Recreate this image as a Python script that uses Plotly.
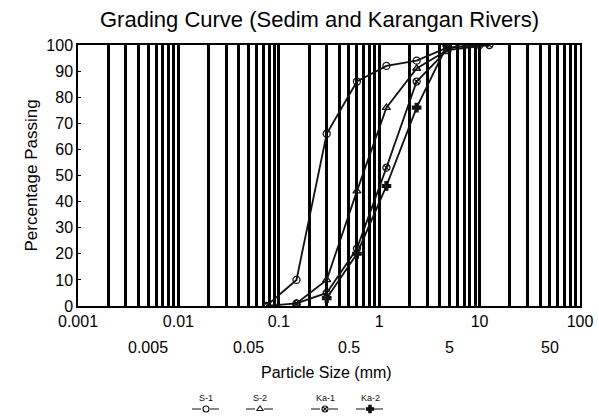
import numpy as np
import plotly.graph_objects as go

W, H = 599, 418
FONT = "Arial, Liberation Sans, sans-serif"

# Sieve analysis results (particle size in mm, percentage passing)
s1_size = [0.075, 0.15, 0.3, 0.6, 1.18, 2.36, 4.75, 10.0]
s1_pass = [0, 10, 66, 86, 92, 94, 99, 100]

s2_size = [0.075, 0.15, 0.3, 0.6, 1.18, 2.36, 4.75, 6.3]
s2_pass = [0, 1, 10, 44, 76, 91, 98, 100]

ka1_size = [0.15, 0.3, 0.6, 1.18, 2.36, 4.75, 12.5]
ka1_pass = [1, 5, 22, 53, 86, 98, 100]

ka2_size = [0.3, 0.6, 1.18, 2.36, 4.75]
ka2_pass = [3, 20, 46, 76, 100]

series_names = ["S-1", "S-2", "Ka-1", "Ka-2"]
series_symbols = ["circle-open", "triangle-up-open", "circle-x-open", "cross"]

# Axis labelling
major_ticks = [0.001, 0.01, 0.1, 1, 10, 100]
major_labels = ["0.001", "0.01", "0.1", "1", "10", "100"]
second_row_ticks = [0.005, 0.05, 0.5, 5, 50]
second_row_labels = ["0.005", "0.05", "0.5", "5", "50"]
y_ticks = list(range(0, 101, 10))

# Plot area in pixels
PX_L, PX_R, PX_T, PX_B = 78, 580, 45, 306
# Legend strip in pixels (top, bottom)
LG_T, LG_B = 388, 418

# Vertical log grid: 1..9 times every decade
grid_vals = [round(m * 10.0 ** e, 6) for e in range(-3, 2) for m in range(1, 10)] + [100]
grid_text = [major_labels[major_ticks.index(v)] if v in major_ticks else "" for v in grid_vals]

fig = go.Figure()

data = [(s1_size, s1_pass), (s2_size, s2_pass), (ka1_size, ka1_pass), (ka2_size, ka2_pass)]
for (xs, ys), name, sym in zip(data, series_names, series_symbols):
    fig.add_trace(go.Scatter(
        x=xs, y=ys, mode="lines+markers", name=name,
        line=dict(color="#111111", width=1.8),
        marker=dict(symbol=sym, size=7, color="#111111",
                    line=dict(color="#111111", width=1.3)),
        showlegend=False, xaxis="x", yaxis="y",
    ))

# Legend keys below the axis title (text above a short line with marker)
legend_centers = [206, 260, 325, 370]
for cx, name, sym in zip(legend_centers, series_names, series_symbols):
    fig.add_trace(go.Scatter(
        x=[cx - 14, cx, cx + 14], y=[409, 409, 409], mode="lines",
        line=dict(color="#111111", width=1.2, dash="dash"),
        showlegend=False, hoverinfo="skip", xaxis="x2", yaxis="y2",
    ))
    fig.add_trace(go.Scatter(
        x=[cx], y=[409], mode="markers",
        marker=dict(symbol=sym, size=6, color="#111111",
                    line=dict(color="#111111", width=1.1)),
        showlegend=False, hoverinfo="skip", xaxis="x2", yaxis="y2",
    ))
    fig.add_annotation(x=cx, y=398, xref="x2", yref="y2", text=name,
                       showarrow=False, font=dict(family=FONT, size=9, color="#111"))

# Second row of particle-size labels
y_row2 = -(347 - PX_B) / (PX_B - PX_T)
for v, t in zip(second_row_ticks, second_row_labels):
    fig.add_annotation(x=np.log10(v), y=y_row2, xref="x", yref="y domain",
                       text=t, showarrow=False, yanchor="middle",
                       font=dict(family=FONT, size=16, color="black"))

fig.add_annotation(x=326 / W, y=1 - 372 / H, xref="paper", yref="paper",
                   text="Particle Size (mm)", showarrow=False, yanchor="middle",
                   font=dict(family=FONT, size=16, color="black"))
fig.add_annotation(x=19 / W, y=1 - 176 / H, xref="paper", yref="paper",
                   text="Percentage Passing", textangle=-90, showarrow=False,
                   font=dict(family=FONT, size=17, color="black"))

fig.update_layout(
    width=W, height=H,
    margin=dict(l=0, r=0, t=0, b=0),
    paper_bgcolor="white", plot_bgcolor="rgba(0,0,0,0)",
    title=dict(text="Grading Curve (Sedim and Karangan Rivers)",
               x=100 / W, xanchor="left", y=1 - 19 / H, yanchor="middle",
               font=dict(family=FONT, size=22, color="black")),
    xaxis=dict(
        type="log", range=[-3, 2],
        domain=[PX_L / W, PX_R / W], anchor="y",
        tickmode="array", tickvals=grid_vals, ticktext=grid_text,
        showgrid=True, gridcolor="black", gridwidth=2.6,
        showline=True, linecolor="black", linewidth=1.5, mirror=True,
        ticks="", zeroline=False, automargin=False,
        tickfont=dict(family=FONT, size=16, color="black"),
    ),
    yaxis=dict(
        range=[0, 100], domain=[(H - PX_B) / H, (H - PX_T) / H], anchor="x",
        tickvals=y_ticks, ticks="inside", ticklen=3, tickcolor="black",
        showgrid=False, zeroline=False,
        showline=True, linecolor="black", linewidth=1.5, mirror=True,
        automargin=False,
        tickfont=dict(family=FONT, size=16, color="black"),
    ),
    xaxis2=dict(range=[0, W], domain=[0, 1], anchor="y2",
                visible=False, fixedrange=True),
    yaxis2=dict(range=[LG_B, LG_T], domain=[0, (H - LG_T) / H], anchor="x2",
                visible=False, fixedrange=True),
)
fig.write_html("out.html")
